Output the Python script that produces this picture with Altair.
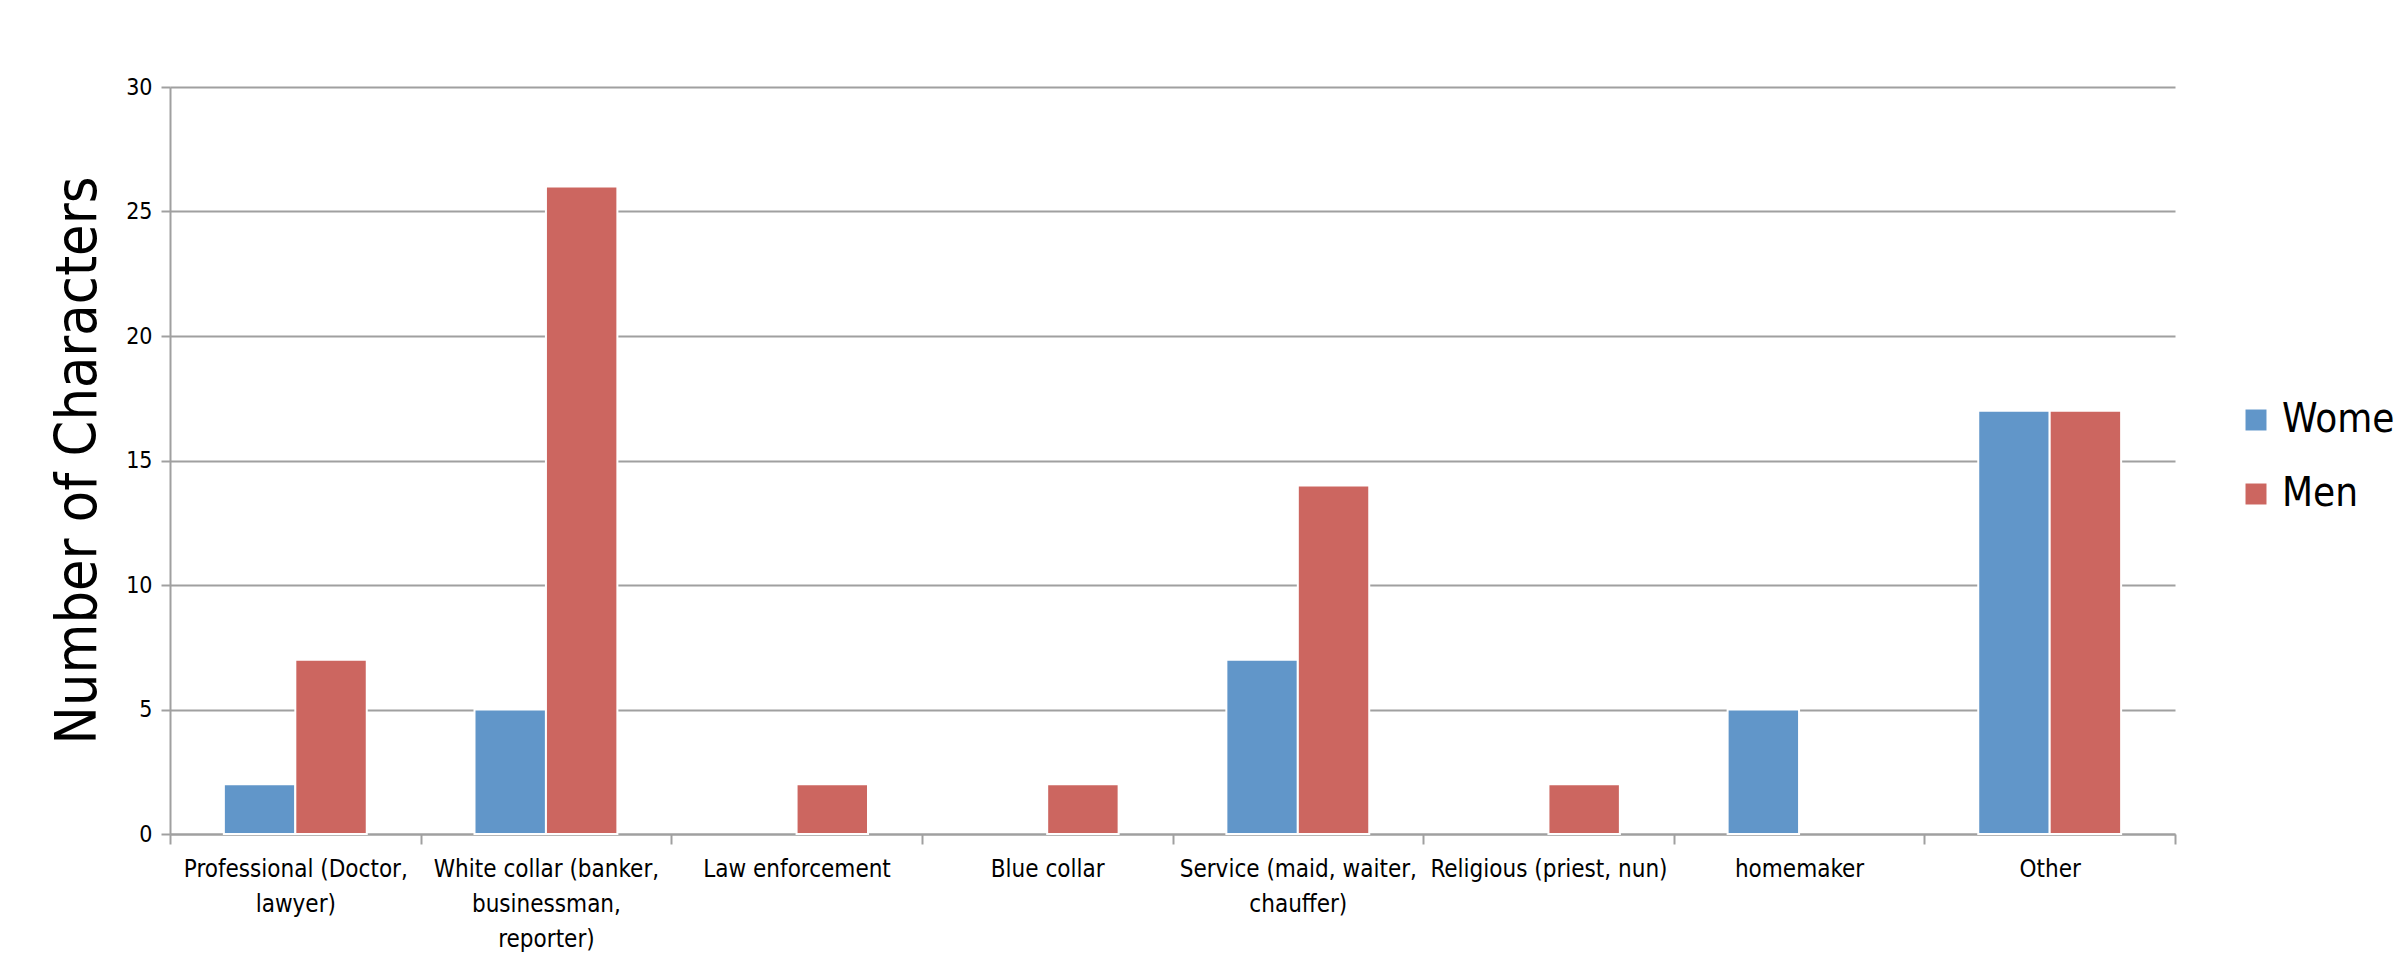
import altair as alt
import pandas as pd

# Occupation categories (line breaks mark where the axis label wraps)
categories = [
    "Professional (Doctor,\nlawyer)",
    "White collar (banker,\nbusinessman,\nreporter)",
    "Law enforcement",
    "Blue collar",
    "Service (maid, waiter,\nchauffer)",
    "Religious (priest, nun)",
    "homemaker",
    "Other",
]
women = [2, 5, 0, 0, 7, 0, 5, 17]
men = [7, 26, 2, 2, 14, 2, 0, 17]
series = ["Women", "Men"]
colors = ["#6196C9", "#CC6660"]
y_ticks = [0, 5, 10, 15, 20, 25, 30]

rows = []
for cat, w, m in zip(categories, women, men):
    rows.append({"occupation": cat, "gender": "Women", "count": w})
    rows.append({"occupation": cat, "gender": "Men", "count": m})
df = pd.DataFrame(rows)

FONT = "'Liberation Sans Narrow', 'DejaVu Sans Condensed', sans-serif"
GRAY = "#a0a0a0"

chart = (
    alt.Chart(df)
    .transform_filter("datum.count > 0")
    .mark_bar(stroke="white", strokeWidth=2)
    .encode(
        x=alt.X(
            "occupation:N",
            sort=categories,
            scale=alt.Scale(paddingInner=0, paddingOuter=0),
            axis=alt.Axis(
                title=None,
                labelAngle=0,
                labelExpr="split(datum.label, '\\n')",
                labelFontSize=24,
                labelLineHeight=35,
                labelLimit=0,
                labelColor="black",
                labelPadding=13,
                labelBaseline="top",
                tickBand="extent",
                tickSize=10,
                tickColor=GRAY,
                tickWidth=2,
                domainColor=GRAY,
                domainWidth=2,
                grid=False,
            ),
        ),
        xOffset=alt.XOffset(
            "gender:N",
            sort=series,
            scale=alt.Scale(paddingInner=0, paddingOuter=0.754),
        ),
        y=alt.Y(
            "count:Q",
            scale=alt.Scale(domain=[0, 30], nice=False),
            axis=alt.Axis(
                title="Number of Characters",
                titleFontSize=57,
                titleFontWeight="normal",
                titleColor="black",
                titleAngle=270,
                titleX=-75,
                titleY=373,
                titleAlign="center",
                titleBaseline="alphabetic",
                values=y_ticks,
                labelFontSize=23,
                labelColor="black",
                labelPadding=9,
                tickSize=9,
                tickColor=GRAY,
                tickWidth=2,
                domainColor=GRAY,
                domainWidth=2,
                gridColor=GRAY,
                gridWidth=2,
            ),
        ),
        color=alt.Color(
            "gender:N",
            sort=series,
            scale=alt.Scale(domain=series, range=colors),
            legend=alt.Legend(
                title=None,
                orient="none",
                legendX=2066,
                legendY=313,
                symbolType="square",
                symbolSize=440,
                symbolStrokeWidth=0,
                labelFontSize=40,
                labelColor="black",
                labelOffset=6,
                rowPadding=34,
            ),
        ),
    )
    .properties(
        width=2005,
        height=747,
        autosize=alt.AutoSizeParams(type="none"),
        padding={"left": 170, "top": 87, "right": 221, "bottom": 143},
    )
    .configure(font=FONT)
    .configure_view(stroke=None)
)

chart.save("out.html", embed_options={"renderer": "svg", "actions": False})
